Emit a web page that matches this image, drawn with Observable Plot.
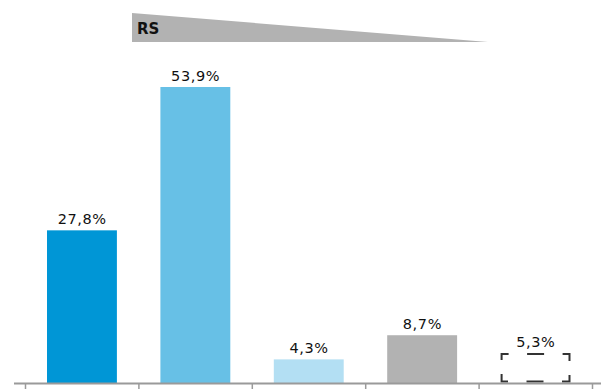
<!DOCTYPE html>
<html>
<head>
<meta charset="utf-8">
<script src="https://cdn.jsdelivr.net/npm/d3@7"></script>
<script src="https://cdn.jsdelivr.net/npm/@observablehq/plot@0.6"></script>
<style>
  html, body { margin: 0; padding: 0; background: #fff; }
  #header { position: relative; width: 601px; height: 45px; }
  #wedge { position: absolute; left: 132px; top: 13px; width: 356px; height: 29px;
           background: #b2b2b2; clip-path: polygon(0 0, 100% 100%, 0 100%); }
  #rs { position: absolute; left: 137px; top: 20px; font: bold 15px "DejaVu Sans", sans-serif; color: #111; }
  svg { display: block; }
</style>
</head>
<body>
<div id="header"><div id="wedge"></div><div id="rs">RS</div></div>
<div id="chart"></div>
<script>
const categories = ["Kategorie 1", "Kategorie 2", "Kategorie 3", "Kategorie 4", "Kategorie 5"];
const values = [27.8, 53.9, 4.3, 8.7, 5.3];
const labels = ["27,8%", "53,9%", "4,3%", "8,7%", "5,3%"];
const fills = ["#0096d6", "#67c0e6", "#b3dff3", "#b2b2b2", "none"];
const strokes = ["none", "none", "none", "none", "#333333"];
const boundaries = [0, 1, 2, 3, 4, 5];

const data = categories.map((c, i) => ({
  category: c, index: i, value: values[i], label: labels[i], fill: fills[i], stroke: strokes[i]
}));

const chart = Plot.plot({
  width: 601,
  height: 344,
  marginTop: 0,
  marginBottom: 6,
  marginLeft: 25,
  marginRight: 9,
  x: {domain: [0, 5], axis: null},
  y: {domain: [0, 61.55], axis: null},
  marks: [
    Plot.rectY(data.filter(d => d.fill !== "none"), {
      x1: "index", x2: d => d.index + 1, y1: 0, y2: "value",
      fill: "fill", insetLeft: 22, insetRight: 21.5
    }),
    Plot.rectY(data.filter(d => d.fill === "none"), {
      x1: "index", x2: d => d.index + 1, y1: 0, y2: "value",
      fill: "none", stroke: "stroke", strokeWidth: 2,
      strokeDasharray: "14,18.5,17,18.5,14,14", strokeDashoffset: 7,
      insetLeft: 23, insetRight: 22.5, insetBottom: 1.5
    }),
    Plot.text(data, {
      x: d => d.index + 0.5, y: "value", text: "label",
      textAnchor: "middle", lineAnchor: "bottom", dy: -7,
      fontSize: 14.5, fill: "#111", fontFamily: "DejaVu Sans"
    }),
    Plot.axisX({ticks: boundaries, tickSize: 6, tickFormat: () => "", label: null, stroke: "#9a9a9a", strokeWidth: 1.5}),
    Plot.ruleY([0], {stroke: "#9a9a9a", strokeWidth: 2, insetLeft: -11, insetRight: -9})
  ]
});
chart.style.letterSpacing = "0.6px";
document.getElementById("chart").appendChild(chart);
</script>
</body>
</html>
